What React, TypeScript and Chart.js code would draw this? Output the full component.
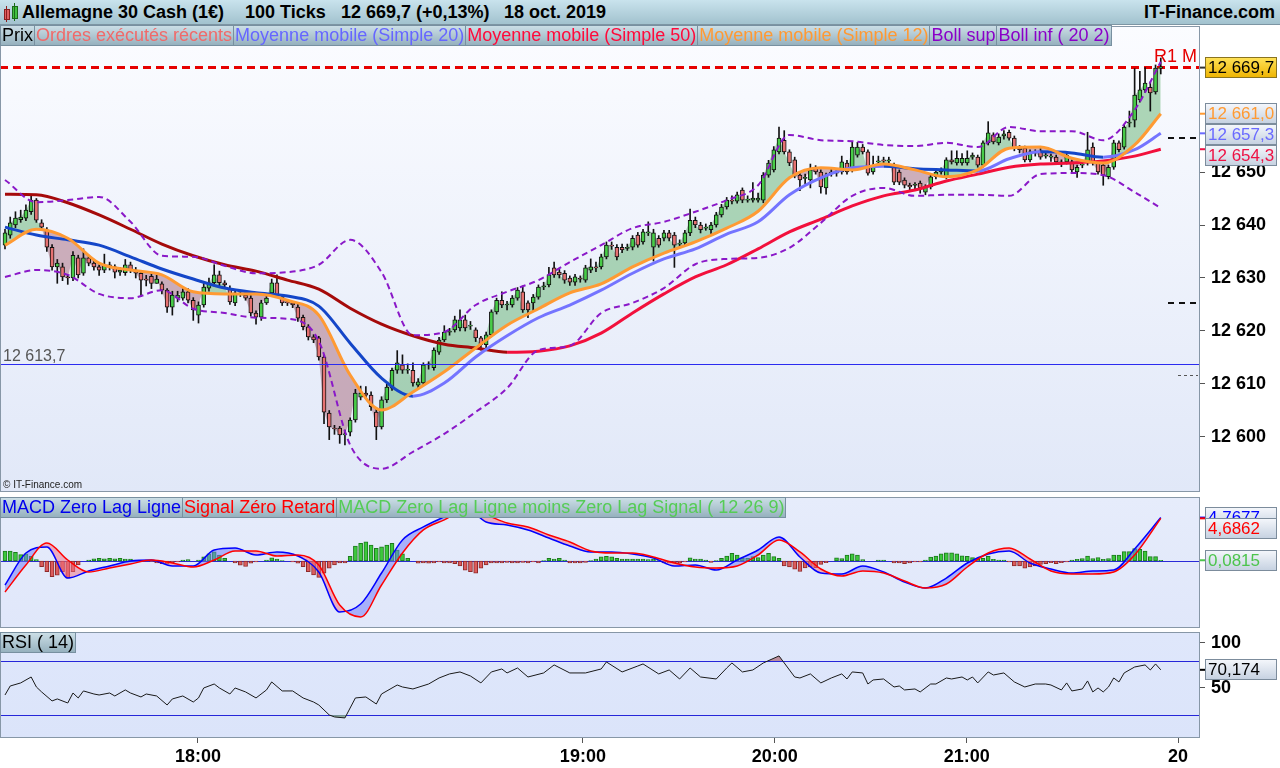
import React, { useEffect, useRef } from "react";
import { Chart, registerables } from "chart.js";
Chart.register(...registerables);

const FONT = '"Liberation Sans", Arial, Helvetica, sans-serif';
Chart.defaults.font.family = FONT;

// ---------------- DATA ----------------
const candleOpen = [
  12636.2,12638.1,12640.0,12641.0,12641.3,12642.5,12644.7,12640.4,12639.1,12635.8,
  12632.1,12632.1,12630.2,12630.0,12633.8,12630.9,12633.8,12632.8,12632.1,12631.5,
  12632.5,12632.1,12631.1,12631.0,12632.5,12631.5,12630.9,12629.8,12630.3,12629.0,
  12628.9,12627.7,12624.5,12626.2,12626.2,12627.4,12625.8,12623.0,12624.9,12628.1,
  12629.1,12630.6,12629.1,12628.0,12625.3,12627.2,12626.8,12626.2,12623.4,12622.6,
  12625.3,12627.2,12629.1,12626.4,12625.5,12625.3,12624.5,12622.6,12620.8,12618.9,
  12618.7,12615.1,12604.5,12601.7,12601.7,12600.4,12600.9,12603.2,12607.5,12608.3,
  12607.9,12604.7,12601.9,12607.0,12609.2,12612.6,12613.6,12612.6,12612.6,12609.8,
  12610.2,12613.6,12613.1,12616.0,12618.3,12619.8,12620.2,12620.6,12622.1,12620.9,
  12620.2,12618.7,12617.4,12619.3,12623.6,12625.8,12624.9,12624.9,12626.2,12627.4,
  12625.3,12625.3,12626.4,12628.3,12628.7,12631.9,12631.1,12630.9,12630.0,12629.2,
  12630.0,12629.6,12631.5,12632.0,12632.1,12634.0,12636.2,12635.8,12635.8,12635.6,
  12635.8,12638.1,12636.8,12638.5,12635.8,12637.5,12637.5,12638.5,12638.1,12636.4,
  12636.6,12638.5,12640.9,12640.0,12639.4,12639.1,12640.0,12641.9,12643.4,12644.7,
  12644.5,12646.6,12644.7,12644.7,12644.7,12644.7,12649.4,12650.4,12653.8,12656.0,
  12653.8,12652.3,12649.4,12648.8,12648.5,12650.8,12650.0,12647.0,12649.8,12650.0,
  12650.0,12651.7,12650.4,12653.2,12654.7,12653.8,12650.0,12651.9,12652.3,12652.1,
  12651.3,12650.0,12648.5,12647.5,12647.5,12647.9,12646.2,12647.2,12649.1,12650.0,
  12649.1,12652.3,12651.7,12651.7,12651.7,12652.8,12652.8,12651.3,12655.5,12657.0,
  12655.5,12656.8,12657.5,12656.4,12654.5,12654.5,12652.3,12653.8,12654.0,12653.0,
  12652.8,12652.8,12651.9,12651.9,12651.9,12650.0,12651.3,12651.7,12654.7,12651.7,
  12651.3,12649.1,12650.9,12655.5,12654.7,12659.2,12659.8,12663.6,12665.5,12666.0,
  12665.1,12669.6
];
const candleHigh = [
  12639.2,12641.5,12642.5,12642.8,12643.8,12645.5,12645.0,12641.0,12639.5,12636.3,
  12633.5,12632.8,12630.5,12635.0,12634.3,12635.5,12634.3,12633.3,12632.5,12634.5,
  12633.0,12632.5,12632.0,12633.5,12633.0,12632.0,12631.3,12630.5,12630.8,12630.5,
  12629.3,12628.0,12627.5,12627.5,12628.0,12628.0,12626.3,12625.5,12629.0,12630.0,
  12632.5,12631.3,12629.5,12628.5,12627.8,12627.6,12627.3,12626.7,12623.8,12625.8,
  12626.8,12629.8,12630.6,12626.8,12625.8,12625.6,12625.0,12623.0,12621.2,12619.3,
  12619.0,12615.5,12605.0,12602.2,12602.0,12601.3,12603.6,12609.0,12609.6,12609.5,
  12608.5,12605.2,12607.6,12610.0,12613.0,12616.3,12615.5,12613.8,12614.0,12611.0,
  12614.0,12614.2,12616.8,12618.8,12621.0,12620.5,12622.8,12624.0,12623.0,12621.8,
  12620.6,12619.0,12619.8,12624.0,12626.2,12627.4,12625.6,12626.7,12628.2,12628.5,
  12625.7,12626.9,12628.7,12629.2,12632.0,12633.0,12631.6,12631.4,12630.4,12630.7,
  12630.4,12632.4,12633.6,12633.0,12634.5,12636.8,12636.8,12636.3,12636.4,12636.4,
  12638.0,12638.6,12639.2,12640.6,12639.2,12638.0,12639.0,12639.0,12638.6,12637.2,
  12639.0,12643.0,12641.5,12640.5,12640.2,12640.5,12642.4,12643.9,12645.2,12645.5,
  12646.2,12647.0,12645.5,12648.0,12646.0,12649.9,12652.2,12654.8,12658.5,12657.8,
  12654.2,12652.8,12649.8,12649.6,12651.5,12651.2,12650.4,12649.8,12650.5,12650.4,
  12653.0,12652.2,12655.6,12655.6,12655.2,12654.2,12653.0,12653.0,12652.8,12652.8,
  12651.7,12650.4,12648.9,12647.9,12648.0,12648.3,12647.6,12649.5,12650.4,12650.8,
  12652.7,12654.0,12654.0,12653.5,12654.0,12653.6,12653.2,12655.9,12659.5,12657.4,
  12657.2,12657.8,12657.9,12656.8,12655.0,12654.9,12654.2,12654.2,12654.4,12653.6,
  12653.4,12653.2,12652.3,12653.6,12652.3,12651.3,12652.0,12657.5,12655.5,12652.1,
  12651.7,12651.3,12656.0,12655.9,12658.9,12661.5,12669.5,12669.0,12669.7,12667.0,
  12670.2,12671.5
];
const candleLow = [
  12635.5,12637.5,12639.5,12640.5,12640.8,12642.0,12640.5,12639.0,12635.0,12631.5,
  12629.0,12629.5,12628.8,12629.5,12630.0,12630.5,12632.3,12631.5,12630.5,12631.0,
  12631.5,12630.0,12630.5,12630.5,12631.0,12630.0,12626.5,12628.5,12628.0,12629.0,
  12627.0,12623.5,12623.0,12625.5,12625.8,12625.3,12622.0,12621.5,12624.5,12627.5,
  12628.5,12628.5,12628.2,12625.0,12624.8,12626.5,12625.8,12622.8,12621.3,12622.0,
  12625.0,12626.8,12626.3,12624.8,12624.8,12624.4,12621.8,12620.2,12618.3,12617.8,
  12614.5,12602.5,12599.5,12600.5,12598.8,12598.5,12600.2,12602.8,12607.0,12607.2,
  12605.0,12599.5,12601.5,12606.5,12608.8,12612.0,12612.0,12612.0,12609.6,12609.0,
  12609.8,12612.8,12612.6,12615.6,12618.0,12619.2,12619.8,12620.0,12620.0,12620.3,
  12618.0,12616.4,12616.8,12618.9,12623.2,12624.4,12624.0,12624.5,12625.8,12623.5,
  12622.5,12623.8,12626.0,12627.8,12628.3,12630.1,12630.0,12629.0,12628.6,12628.6,
  12629.2,12629.2,12631.0,12631.2,12631.7,12633.6,12635.4,12633.4,12634.8,12635.2,
  12635.3,12635.8,12636.4,12638.0,12633.2,12635.8,12637.0,12637.0,12632.0,12635.8,
  12636.2,12638.0,12639.5,12638.5,12639.0,12638.4,12639.6,12641.5,12643.0,12644.0,
  12644.1,12644.2,12644.3,12644.3,12644.3,12644.2,12649.0,12650.0,12653.4,12653.4,
  12651.2,12648.9,12646.5,12647.8,12647.0,12649.6,12646.0,12645.8,12649.2,12649.2,
  12649.6,12649.6,12650.0,12652.8,12653.4,12649.4,12649.6,12651.0,12651.6,12651.6,
  12647.6,12647.6,12647.0,12646.4,12646.8,12646.0,12645.7,12646.8,12648.7,12649.6,
  12648.7,12651.5,12651.3,12651.3,12651.3,12652.4,12650.9,12650.9,12655.1,12655.3,
  12655.1,12656.2,12656.0,12654.0,12653.6,12651.9,12651.9,12653.0,12652.4,12652.6,
  12652.0,12651.4,12651.0,12651.5,12649.9,12649.0,12650.8,12651.3,12651.3,12649.6,
  12647.5,12648.7,12650.5,12653.8,12654.3,12658.5,12658.5,12663.2,12665.0,12661.5,
  12664.7,12668.5
];
const candleClose = [
  12638.5,12640.4,12641.3,12641.5,12642.8,12644.7,12640.9,12639.6,12635.8,12632.1,
  12632.8,12630.2,12630.0,12634.3,12630.6,12633.8,12632.8,12632.1,12631.5,12632.5,
  12632.1,12631.1,12631.5,12632.5,12631.5,12630.9,12629.6,12629.6,12629.0,12629.8,
  12627.7,12624.5,12626.8,12626.8,12627.4,12625.8,12624.0,12624.9,12628.3,12629.1,
  12630.6,12629.1,12628.7,12625.5,12627.2,12627.0,12626.2,12623.4,12622.6,12625.3,
  12626.2,12629.1,12626.8,12625.3,12625.3,12624.9,12622.4,12620.8,12618.9,12618.3,
  12615.1,12604.7,12601.9,12601.5,12600.4,12600.6,12603.2,12608.3,12608.3,12607.9,
  12605.7,12601.9,12607.0,12609.4,12612.6,12614.0,12612.6,12612.8,12610.2,12610.4,
  12613.6,12613.8,12616.4,12618.3,12619.8,12620.0,12622.1,12622.1,12620.6,12621.1,
  12618.7,12617.4,12619.3,12623.6,12625.8,12624.9,12625.1,12626.2,12627.7,12624.0,
  12624.0,12626.4,12628.3,12628.5,12630.6,12630.6,12630.6,12629.6,12629.2,12630.2,
  12629.8,12631.9,12632.1,12631.9,12634.0,12636.2,12636.0,12634.0,12635.3,12635.8,
  12637.5,12636.2,12638.7,12638.7,12638.5,12636.2,12638.5,12637.5,12636.2,12636.6,
  12638.5,12640.9,12640.0,12639.1,12639.6,12640.0,12641.9,12643.4,12644.7,12644.5,
  12645.7,12644.7,12644.9,12645.1,12645.1,12649.4,12651.7,12654.2,12656.4,12653.8,
  12651.7,12649.4,12648.5,12648.9,12650.4,12650.0,12647.2,12649.4,12650.0,12649.8,
  12651.9,12650.0,12654.7,12654.7,12653.8,12649.8,12650.9,12652.1,12652.1,12652.3,
  12648.1,12648.1,12647.5,12647.2,12647.5,12647.0,12647.2,12649.1,12650.0,12650.4,
  12652.3,12651.9,12652.6,12652.6,12652.6,12653.2,12651.3,12655.5,12657.4,12655.7,
  12656.6,12657.2,12656.4,12654.5,12654.2,12652.3,12653.8,12653.6,12652.8,12653.2,
  12652.8,12651.9,12651.7,12653.2,12650.4,12650.9,12651.5,12654.2,12651.7,12650.0,
  12649.4,12650.9,12655.5,12654.2,12658.5,12659.4,12664.5,12665.5,12666.8,12664.9,
  12669.6,12669.7
];

// indicator lines (sampled every 6 candles, last one at the final candle)
const lineIdx = [0,6,12,18,24,30,36,42,48,54,60,66,72,78,84,90,96,102,108,114,120,126,132,138,144,150,156,162,168,174,180,186,192,198,204,210,216,221];
const ma12 = [12636.2,12639.2,12637.5,12632.8,12631.5,12630.6,12627.4,12627.0,12627.0,12625.8,12623.0,12611.7,12605.1,12608.5,12612.3,12616.8,12621.1,12624.2,12627.2,12628.9,12632.1,12634.7,12636.8,12639.4,12642.6,12648.9,12650.8,12650.4,12651.5,12650.4,12649.1,12650.4,12654.5,12654.7,12652.6,12651.7,12655.1,12661.0];
const ma20 = [12639.6,12638.1,12637.2,12636.2,12634.0,12631.7,12629.8,12628.1,12627.2,12626.6,12624.7,12617.7,12611.1,12607.7,12610.2,12615.1,12619.1,12622.5,12624.9,12627.7,12630.9,12633.6,12635.5,12638.3,12640.6,12645.7,12648.9,12650.8,12651.1,12650.6,12650.4,12650.2,12652.5,12653.8,12653.6,12652.8,12654.2,12657.3];
const ma50 = [12645.8,12645.7,12644.2,12641.9,12639.2,12636.4,12634.2,12632.5,12631.3,12629.6,12627.9,12624.3,12621.3,12619.1,12617.5,12616.8,12616.0,12616.2,12617.2,12619.6,12623.4,12627.0,12630.2,12632.5,12635.5,12638.7,12641.1,12643.6,12645.5,12646.6,12648.3,12649.6,12650.9,12651.5,12651.7,12652.1,12653.0,12654.3];
const bollUp = [12648.5,12644.3,12644.7,12645.3,12640.6,12634.2,12634.0,12632.3,12630.9,12631.1,12632.5,12637.2,12631.1,12619.2,12619.8,12624.9,12627.4,12629.6,12633.0,12636.2,12639.4,12640.6,12642.5,12644.7,12647.5,12657.0,12656.0,12655.8,12655.1,12654.9,12655.5,12654.7,12658.5,12657.7,12657.7,12656.0,12661.7,12670.8];
const bollLo = [12630.2,12631.5,12630.6,12627.0,12626.2,12627.7,12624.2,12623.4,12622.5,12622.3,12618.1,12598.5,12594.0,12597.2,12600.6,12604.7,12609.2,12616.4,12617.2,12623.4,12625.3,12628.1,12632.6,12633.6,12633.8,12635.7,12640.4,12645.5,12647.0,12645.5,12645.7,12645.7,12645.5,12649.6,12649.8,12649.4,12646.2,12643.2];

// MACD (sampled every 4 candles, last one at the final candle)
const macdIdx = [0,4,8,12,16,20,24,28,32,36,40,44,48,52,56,60,64,68,72,76,80,84,88,92,96,100,104,108,112,116,120,124,128,132,136,140,144,148,152,156,160,164,168,172,176,180,184,188,192,196,200,204,208,212,216,221];
const macdLine = [-2.64,0.88,1.54,-1.87,-1.10,-0.55,0,0.11,-0.55,-0.55,1.21,1.43,0.66,0.99,0.55,-1.21,-5.60,-4.73,-1.32,2.31,3.74,4.84,5.82,4.29,3.96,3.41,2.53,1.65,0.99,0.99,0.77,0.33,-0.55,-0.44,-0.99,0.11,1.21,2.64,0.44,-1.32,-1.43,-0.55,-1.21,-2.31,-2.97,-1.87,-0.22,0.77,1.10,-0.22,-0.88,-1.32,-1.10,-0.99,1.32,4.7677];
const macdSignal = [-3.41,-0.44,1.98,0.11,-1.21,-0.77,-0.33,0.11,-0.22,-0.66,0.11,1.10,1.10,0.55,0.66,-0.44,-4.84,-6.15,-2.64,0.88,3.41,4.51,5.60,5.05,4.18,3.74,2.86,2.09,1.10,0.88,0.88,0.44,-0.22,-0.66,-0.77,-0.55,0.66,2.31,0.99,-0.88,-1.65,-1.10,-1.32,-2.20,-2.97,-2.53,-0.66,0.88,1.43,0.22,-1.10,-1.43,-1.43,-1.21,0.66,4.6862];
const macdHist = [
  1.1,1.1,0.95,0.7,0.8,0.5,0.15,-0.62,-1.17,-1.72,
  -1.55,-1.17,-1.9,-1.17,-0.44,0,0.1,0.25,0.3,0.25,
  0.3,0.25,0.3,0.2,0.2,0,0.05,0,-0.05,-0.2,
  -0.3,-0.35,-0.2,-0.1,0.1,0.15,0,0.1,0.45,0.8,
  1.0,0.65,0.3,0,-0.2,-0.45,-0.6,-0.25,-0.1,0,
  0.1,0.35,0.2,0.05,0,-0.1,-0.25,-0.62,-1.17,-1.54,
  -1.8,-1.35,-0.8,-0.44,-0.2,-0.2,0.5,1.65,1.94,2.1,
  1.76,1.4,1.57,1.76,1.94,1.2,0.8,0.3,0,-0.25,
  -0.2,-0.25,-0.2,-0.1,-0.2,-0.2,-0.3,-0.55,-1.0,-1.17,
  -1.35,-0.8,-0.44,-0.2,-0.2,-0.2,-0.15,-0.2,-0.2,-0.15,
  -0.2,-0.1,-0.2,0.05,0.3,0.2,0.3,0.1,-0.2,-0.2,
  -0.2,-0.15,0.05,0.2,0.45,0.5,0.45,0.3,0.2,0.2,
  0.2,0.2,0.2,0.15,0.2,0.05,-0.2,-0.2,-0.2,-0.2,
  -0.1,0.35,0.2,0.2,0.1,-0.15,0.05,0.3,0.55,0.84,
  0.66,0.3,0.3,0.48,0.37,0.66,0.84,0.48,0.3,-0.55,
  -0.66,-0.9,-1.15,-0.77,-0.66,-0.73,-0.37,-0.18,0,0.35,
  0.26,0.66,0.8,0.66,0.15,0,0,0.1,0.1,0,
  -0.2,-0.2,-0.3,-0.2,-0.1,-0.1,0.1,0.44,0.55,0.8,
  0.9,0.9,0.8,0.58,0.5,0.37,0.18,0.3,0.5,0.18,
  0.1,0.1,-0.1,-0.55,-0.55,-0.8,-0.66,-0.55,-0.37,-0.3,
  -0.18,-0.3,-0.18,-0.1,0.1,0.18,0.26,0.55,0.26,0.37,
  0.18,0.26,0.66,0.66,1.03,1.03,1.36,1.28,1.1,0.48,
  0.48,0.0815
];

// RSI (14)
const rsiIdx = [0,1,3,5,6,7,9,10,12,13,14,15,17,18,20,21,23,24,26,27,29,31,32,34,36,37,38,40,41,43,44,46,48,50,51,53,55,57,59,60,62,63,65,67,69,71,72,75,76,78,81,83,85,87,89,91,93,95,96,98,100,103,105,108,111,114,115,118,121,122,125,127,129,131,133,136,138,139,141,143,145,148,151,152,154,156,158,160,161,162,164,165,166,168,170,171,172,174,175,177,178,180,181,183,184,185,186,188,189,191,193,195,197,199,200,202,203,204,206,207,208,209,210,211,212,213,214,216,218,219,220,221];
const rsiVal = [42.2,52.2,55.6,62.2,51.1,45.6,35.6,37.8,33.3,44.4,38.9,46.7,43.3,42.2,44.4,41.1,47.8,44.4,40.0,43.3,41.1,31.1,37.8,41.1,34.4,38.9,50.0,54.4,50.0,43.3,50.0,45.6,38.9,47.8,56.7,46.7,46.7,38.9,34.4,31.1,20.0,17.8,16.7,38.9,40.0,32.2,43.3,53.3,51.1,48.9,54.4,61.1,65.6,67.8,63.3,55.6,67.8,71.1,66.7,72.2,62.2,66.7,75.6,66.7,66.7,71.1,78.9,67.8,74.4,76.7,65.6,70.0,60.0,72.2,62.2,60.0,72.2,77.8,67.8,70.0,77.8,85.6,62.2,61.1,65.6,55.6,61.1,65.6,60.0,67.8,66.7,54.4,58.9,60.0,51.1,52.2,47.8,48.9,45.6,54.4,54.4,61.1,60.0,62.2,58.9,62.2,55.6,67.8,64.4,66.7,56.7,51.1,54.4,54.4,53.3,47.8,55.6,46.7,48.9,57.8,45.6,50.0,45.6,51.1,61.1,56.7,66.7,73.3,75.6,70.0,76.7,70.174];
const rsiLevels = [80, 20];

const priceTicks = [12600, 12610, 12620, 12630, 12640, 12650];
const rsiTicks = [100, 50];
const timeLabels = ["18:00", "19:00", "20:00", "21:00", "20"];
const timeIdx = [36.9, 110.5, 147.2, 183.9, 224.3];

const r1Monthly = 12669.8;
const refLevel = 12613.7;
const pivotMajor = [12656.4, 12625.3];
const pivotMinor = [12611.7];

// ---------------- HELPERS ----------------
const X_MIN = -0.956;
const X_MAX = 228.5;
const last = (a: number[]) => a[a.length - 1];

function fr(v: number, d: number) {
  const s = Math.abs(v).toFixed(d);
  const [ip, dp] = s.split(".");
  const g = ip.replace(/\B(?=(\d{3})+(?!\d))/g, " ");
  return (v < 0 ? "-" : "") + g + (dp ? "," + dp : "");
}

const fitY = (s: any) => {
  s.width = 80;
  s.paddingTop = 0;
  s.paddingBottom = 0;
};

const hiddenX: any = { type: "linear", min: X_MIN, max: X_MAX, offset: false, display: false };

function drawBg(chart: any, top: string, bottom: string) {
  const { ctx, chartArea: a } = chart;
  const g = ctx.createLinearGradient(0, a.top, 0, a.bottom);
  g.addColorStop(0, top);
  g.addColorStop(1, bottom);
  ctx.save();
  ctx.fillStyle = g;
  ctx.fillRect(a.left, a.top, a.width, a.height);
  ctx.restore();
}

function drawBorder(chart: any) {
  const { ctx, chartArea: a } = chart;
  ctx.save();
  ctx.strokeStyle = "#8797a7";
  ctx.lineWidth = 1;
  ctx.strokeRect(a.left + 0.5, a.top + 0.5, a.width - 1, a.height - 1);
  ctx.restore();
}

type Box = { value: number; text: string; color: string; gold?: boolean };

function drawBoxes(chart: any, boxes: Box[], step: number) {
  const { ctx, chartArea: a, scales } = chart;
  const ys = scales.y;
  const sorted = [...boxes].sort((p, q) => q.value - p.value);
  const h = 21, w = 72, x0 = a.right + 5;
  let prevTop = -1e9;
  ctx.save();
  ctx.font = `17px ${FONT}`;
  ctx.textBaseline = "middle";
  ctx.textAlign = "left";
  for (const b of sorted) {
    const y = ys.getPixelForValue(b.value);
    ctx.strokeStyle = b.gold ? "#333" : b.color;
    ctx.lineWidth = 2;
    ctx.beginPath();
    ctx.moveTo(a.right, y);
    ctx.lineTo(x0, y);
    ctx.stroke();
    const top = Math.round(Math.max(y - h / 2, prevTop + step));
    prevTop = top;
    const g = ctx.createLinearGradient(0, top, 0, top + h);
    if (b.gold) {
      g.addColorStop(0, "#ffe35a");
      g.addColorStop(1, "#eeb300");
    } else {
      g.addColorStop(0, "#f6f8fc");
      g.addColorStop(1, "#c4d0e0");
    }
    ctx.fillStyle = g;
    ctx.fillRect(x0, top, w, h);
    ctx.strokeStyle = b.gold ? "#8a7420" : "#7c8c9c";
    ctx.lineWidth = 1;
    ctx.strokeRect(x0 + 0.5, top + 0.5, w - 1, h - 1);
    ctx.fillStyle = b.gold ? "#000" : b.color;
    ctx.fillText(b.text, x0 + 3, top + h / 2 + 1);
  }
  ctx.restore();
}

function hLine(chart: any, value: number, color: string, width: number, dash: number[], x1?: number, x2?: number) {
  const { ctx, chartArea: a, scales } = chart;
  const y = Math.round(scales.y.getPixelForValue(value)) + (width % 2 ? 0.5 : 0);
  ctx.save();
  ctx.strokeStyle = color;
  ctx.lineWidth = width;
  ctx.setLineDash(dash);
  ctx.beginPath();
  ctx.moveTo(x1 ?? a.left, y);
  ctx.lineTo(x2 ?? a.right, y);
  ctx.stroke();
  ctx.restore();
  return y;
}

// ---------------- CHARTS ----------------
const mainPlugin = {
  id: "mainDeco",
  beforeDraw(chart: any) {
    drawBg(chart, "#fbfcff", "#e1e8f8");
  },
  beforeDatasetsDraw(chart: any) {
    hLine(chart, r1Monthly, "#e60000", 3, [8, 5]);
  },
  afterDatasetsDraw(chart: any) {
    const { ctx, chartArea: a } = chart;
    const y = hLine(chart, refLevel, "#2b2bf0", 1, []);
    ctx.save();
    ctx.font = `16px ${FONT}`;
    ctx.fillStyle = "#555";
    ctx.textBaseline = "alphabetic";
    ctx.fillText(fr(refLevel, 1), a.left + 3, y - 4);
    ctx.font = `10px ${FONT}`;
    ctx.fillStyle = "#222";
    ctx.fillText("© IT-Finance.com", a.left + 3, a.bottom - 4);
    const yr = chart.scales.y.getPixelForValue(r1Monthly);
    ctx.font = `18px ${FONT}`;
    ctx.fillStyle = "#e60000";
    ctx.textAlign = "right";
    ctx.fillText("R1 M", a.right - 3, yr - 5);
    ctx.restore();
    for (const p of pivotMajor) hLine(chart, p, "#111", 2, [6, 5], a.right - 32, a.right - 4);
    for (const p of pivotMinor) hLine(chart, p, "#555", 1, [3, 3], a.right - 22, a.right - 2);
  },
  afterDraw(chart: any) {
    drawBorder(chart);
    drawBoxes(
      chart,
      [
        { value: last(candleClose), text: fr(last(candleClose), 1), color: "#000", gold: true },
        { value: last(ma12), text: fr(last(ma12), 1), color: "#ff9a33" },
        { value: last(ma20), text: fr(last(ma20), 1), color: "#6a6aff" },
        { value: last(ma50), text: fr(last(ma50), 1), color: "#ee1144" },
      ],
      21
    );
  },
};

function buildMain(canvas: HTMLCanvasElement) {
  const pts = (idx: number[], vals: number[]) => idx.map((x, k) => ({ x, y: vals[k] }));
  const bodyColors = candleClose.map((c, i) => (c >= candleOpen[i] ? "#48cc48" : "#e67272"));
  return new Chart(canvas, {
    type: "bar",
    data: {
      datasets: [
        {
          type: "line",
          data: candleClose.map((c, i) => ({ x: i, y: c })),
          borderWidth: 0,
          pointRadius: 0,
          fill: { target: 1, above: "rgba(112,184,124,0.55)", below: "rgba(168,104,122,0.5)" },
          order: 10,
        },
        {
          type: "line",
          data: pts(lineIdx, ma12),
          borderColor: "#ff9a33",
          borderWidth: 3,
          pointRadius: 0,
          cubicInterpolationMode: "monotone",
          order: 1,
        },
        {
          type: "line",
          data: pts(lineIdx, ma20),
          borderColor: "#1446c8",
          borderWidth: 3,
          pointRadius: 0,
          cubicInterpolationMode: "monotone",
          segment: { borderColor: (c: any) => (c.p1.parsed.y >= c.p0.parsed.y ? "#7474ff" : "#1446c8") },
          order: 2,
        },
        {
          type: "line",
          data: pts(lineIdx, ma50),
          borderColor: "#a50a0a",
          borderWidth: 3,
          pointRadius: 0,
          cubicInterpolationMode: "monotone",
          segment: { borderColor: (c: any) => (c.p1.parsed.y >= c.p0.parsed.y ? "#f2103c" : "#a50a0a") },
          order: 3,
        },
        {
          type: "line",
          data: pts(lineIdx, bollUp),
          borderColor: "#8a18c8",
          borderWidth: 2,
          borderDash: [6, 4],
          pointRadius: 0,
          cubicInterpolationMode: "monotone",
          order: 0,
        },
        {
          type: "line",
          data: pts(lineIdx, bollLo),
          borderColor: "#8a18c8",
          borderWidth: 2,
          borderDash: [6, 4],
          pointRadius: 0,
          cubicInterpolationMode: "monotone",
          order: 0,
        },
        {
          type: "bar",
          data: candleLow.map((l, i) => ({ x: i, y: [l, candleHigh[i]] })),
          backgroundColor: "#111",
          borderWidth: 0,
          barThickness: 1,
          grouped: false,
          order: 5,
        },
        {
          type: "bar",
          data: candleOpen.map((o, i) => ({ x: i, y: [o, candleClose[i]] })),
          backgroundColor: bodyColors,
          borderColor: "#111",
          borderWidth: 1,
          borderSkipped: false,
          barThickness: 4,
          minBarLength: 1,
          grouped: false,
          order: 4,
        },
      ] as any,
    },
    options: {
      responsive: false,
      animation: false,
      devicePixelRatio: 1,
      events: [],
      layout: { padding: 0 },
      plugins: { legend: { display: false }, tooltip: { enabled: false } },
      scales: {
        x: hiddenX,
        y: {
          type: "linear",
          position: "right",
          min: 12589.62,
          max: 12677.55,
          afterFit: fitY,
          afterBuildTicks: (s: any) => {
            s.ticks = priceTicks.map((v) => ({ value: v }));
          },
          ticks: {
            color: "#000",
            font: { family: FONT, size: 18, weight: "bold" },
            padding: 6,
            callback: (v: any) => fr(Number(v), 0),
          },
          grid: { display: true, drawOnChartArea: false, drawTicks: true, tickLength: 5, color: "#555" },
          border: { display: false },
        },
      },
    } as any,
    plugins: [mainPlugin],
  });
}

const macdPlugin = {
  id: "macdDeco",
  beforeDraw(chart: any) {
    drawBg(chart, "#e6ecfb", "#e0e7fa");
  },
  beforeDatasetsDraw(chart: any) {
    const a = chart.chartArea;
    hLine(chart, 0, "#2a2ad8", 1, [], a.left, a.right);
  },
  afterDraw(chart: any) {
    drawBorder(chart);
    drawBoxes(
      chart,
      [
        { value: last(macdLine), text: fr(last(macdLine), 4), color: "#0000ff" },
        { value: last(macdSignal), text: fr(last(macdSignal), 4), color: "#ff0000" },
        { value: last(macdHist), text: fr(last(macdHist), 4), color: "#4cc44c" },
      ],
      11
    );
  },
};

function buildMacd(canvas: HTMLCanvasElement) {
  const pts = (vals: number[]) => macdIdx.map((x, k) => ({ x, y: vals[k] }));
  return new Chart(canvas, {
    type: "bar",
    data: {
      datasets: [
        {
          type: "line",
          data: pts(macdLine),
          borderColor: "#0000ff",
          borderWidth: 1.5,
          pointRadius: 0,
          cubicInterpolationMode: "monotone",
          fill: { target: 1, above: "rgba(110,120,250,0.5)", below: "rgba(245,110,130,0.5)" },
          order: 1,
        },
        {
          type: "line",
          data: pts(macdSignal),
          borderColor: "#ff0000",
          borderWidth: 1.5,
          pointRadius: 0,
          cubicInterpolationMode: "monotone",
          order: 0,
        },
        {
          type: "bar",
          data: macdHist.map((v, i) => ({ x: i, y: v })),
          backgroundColor: macdHist.map((v) => (v >= 0 ? "#3cc83c" : "#dc5c5c")),
          borderColor: macdHist.map((v) => (v >= 0 ? "#1d7a1d" : "#8e2a2a")),
          borderWidth: 1,
          borderSkipped: false,
          barThickness: 4,
          grouped: false,
          order: 2,
        },
      ] as any,
    },
    options: {
      responsive: false,
      animation: false,
      devicePixelRatio: 1,
      events: [],
      layout: { padding: 0 },
      plugins: { legend: { display: false }, tooltip: { enabled: false } },
      scales: {
        x: hiddenX,
        y: {
          type: "linear",
          position: "right",
          min: -7.36,
          max: 7.03,
          afterFit: fitY,
          ticks: { display: false },
          grid: { display: false },
          border: { display: false },
        },
      },
    } as any,
    plugins: [macdPlugin],
  });
}

const rsiPlugin = {
  id: "rsiDeco",
  beforeDraw(chart: any) {
    drawBg(chart, "#dfe7fb", "#dbe4fa");
  },
  beforeDatasetsDraw(chart: any) {
    for (const l of rsiLevels) hLine(chart, l, "#2626d9", 1, []);
  },
  afterDraw(chart: any) {
    drawBorder(chart);
    drawBoxes(chart, [{ value: last(rsiVal), text: fr(last(rsiVal), 3), color: "#000" }], 21);
  },
};

function buildRsi(canvas: HTMLCanvasElement) {
  const data = rsiIdx.map((x, k) => ({ x, y: rsiVal[k] }));
  return new Chart(canvas, {
    type: "line",
    data: {
      datasets: [
        {
          data,
          borderColor: "#1a1a1a",
          borderWidth: 1,
          pointRadius: 0,
          tension: 0,
          fill: { target: { value: rsiLevels[0] }, above: "rgba(180,125,138,0.85)", below: "rgba(0,0,0,0)" },
          order: 0,
        },
        {
          data,
          borderWidth: 0,
          pointRadius: 0,
          tension: 0,
          fill: { target: { value: rsiLevels[1] }, above: "rgba(0,0,0,0)", below: "rgba(130,165,140,0.85)" },
          order: 1,
        },
      ] as any,
    },
    options: {
      responsive: false,
      animation: false,
      devicePixelRatio: 1,
      events: [],
      layout: { padding: 0 },
      plugins: { legend: { display: false }, tooltip: { enabled: false } },
      scales: {
        x: {
          type: "linear",
          min: X_MIN,
          max: X_MAX,
          offset: false,
          position: "bottom",
          afterBuildTicks: (s: any) => {
            s.ticks = timeIdx.map((v) => ({ value: v }));
          },
          afterFit: (s: any) => {
            s.height = 30;
            s.paddingLeft = 0;
            s.paddingRight = 0;
          },
          ticks: {
            autoSkip: false,
            maxRotation: 0,
            color: "#000",
            font: { family: FONT, size: 18, weight: "bold" },
            padding: 3,
            callback: (_v: any, i: number) => timeLabels[i],
          },
          grid: { display: true, drawOnChartArea: false, drawTicks: true, tickLength: 5, color: "#555" },
          border: { display: false },
        },
        y: {
          type: "linear",
          position: "right",
          min: -5.6,
          max: 112.2,
          afterFit: fitY,
          afterBuildTicks: (s: any) => {
            s.ticks = rsiTicks.map((v) => ({ value: v }));
          },
          ticks: {
            color: "#000",
            font: { family: FONT, size: 18, weight: "bold" },
            padding: 6,
            callback: (v: any) => String(v),
          },
          grid: { display: true, drawOnChartArea: false, drawTicks: true, tickLength: 5, color: "#555" },
          border: { display: false },
        },
      },
    } as any,
    plugins: [rsiPlugin],
  });
}

// ---------------- UI ----------------
const boxStyle = (color: string): React.CSSProperties => ({
  display: "inline-block",
  boxSizing: "border-box",
  height: 21,
  lineHeight: "19px",
  padding: "0 1px",
  border: "1px solid #7890a0",
  marginRight: -1,
  background: "linear-gradient(#cbdee6, #96b1be)",
  color,
  fontSize: 18,
  whiteSpace: "nowrap",
});

const mainLegend: [string, string][] = [
  ["Prix", "#000"],
  ["Ordres exécutés récents", "#f06a6a"],
  ["Moyenne mobile (Simple 20)", "#6666ff"],
  ["Moyenne mobile (Simple 50)", "#ff0a3a"],
  ["Moyenne mobile (Simple 12)", "#ff9933"],
  ["Boll sup", "#8a00c8"],
  ["Boll inf ( 20 2)", "#8a00c8"],
];
const macdLegend: [string, string][] = [
  ["MACD Zero Lag Ligne", "#0000ee"],
  ["Signal Zéro Retard", "#ff0000"],
  ["MACD Zero Lag Ligne moins Zero Lag Signal ( 12 26 9)", "#55cc55"],
];

export default function App() {
  const mainRef = useRef<HTMLCanvasElement>(null);
  const macdRef = useRef<HTMLCanvasElement>(null);
  const rsiRef = useRef<HTMLCanvasElement>(null);

  useEffect(() => {
    const charts = [buildMain(mainRef.current!), buildMacd(macdRef.current!), buildRsi(rsiRef.current!)];
    return () => charts.forEach((c) => c.destroy());
  }, []);

  const titleText: React.CSSProperties = { position: "absolute", top: 1, fontWeight: "bold", fontSize: 18, lineHeight: "22px", whiteSpace: "nowrap" };
  const lastPx = last(candleClose);

  return (
    <div style={{ position: "absolute", left: 0, top: 0, width: 1280, height: 768, background: "#fff", overflow: "hidden", fontFamily: FONT, color: "#000" }}>
      <canvas ref={mainRef} width={1280} height={466} style={{ position: "absolute", left: 0, top: 26, width: 1280, height: 466 }} />
      <canvas ref={macdRef} width={1280} height={131} style={{ position: "absolute", left: 0, top: 497, width: 1280, height: 131 }} />
      <canvas ref={rsiRef} width={1280} height={136} style={{ position: "absolute", left: 0, top: 632, width: 1280, height: 136 }} />

      <div style={{ position: "absolute", left: 0, top: 0, width: 1280, height: 25, boxSizing: "border-box", background: "linear-gradient(#c9e3ed, #a2c2ce)", borderBottom: "1px solid #7d95a3" }}>
        <div style={{ position: "absolute", left: 4, top: 9, width: 4, height: 9, background: "#e06060", border: "1px solid #8a2020" }} />
        <div style={{ position: "absolute", left: 6, top: 6, width: 1, height: 16, background: "#8a2020" }} />
        <div style={{ position: "absolute", left: 12, top: 6, width: 4, height: 11, background: "#40c040", border: "1px solid #1a6a1a" }} />
        <div style={{ position: "absolute", left: 14, top: 3, width: 1, height: 18, background: "#1a6a1a" }} />
        <span style={{ ...titleText, left: 22 }}>Allemagne 30 Cash (1€)</span>
        <span style={{ ...titleText, left: 245 }}>100 Ticks</span>
        <span style={{ ...titleText, left: 341 }}>{fr(lastPx, 1)} (+0,13%)</span>
        <span style={{ ...titleText, left: 504 }}>18 oct. 2019</span>
        <span style={{ ...titleText, right: 5 }}>IT-Finance.com</span>
      </div>

      <div style={{ position: "absolute", left: 0, top: 25, display: "flex" }}>
        {mainLegend.map(([t, c]) => (
          <span key={t} style={boxStyle(c)}>{t}</span>
        ))}
      </div>

      <div style={{ position: "absolute", left: 0, top: 497, display: "flex" }}>
        {macdLegend.map(([t, c]) => (
          <span key={t} style={boxStyle(c)}>{t}</span>
        ))}
      </div>

      <div style={{ position: "absolute", left: 0, top: 632, display: "flex" }}>
        <span style={boxStyle("#000")}>RSI ( 14)</span>
      </div>
    </div>
  );
}
